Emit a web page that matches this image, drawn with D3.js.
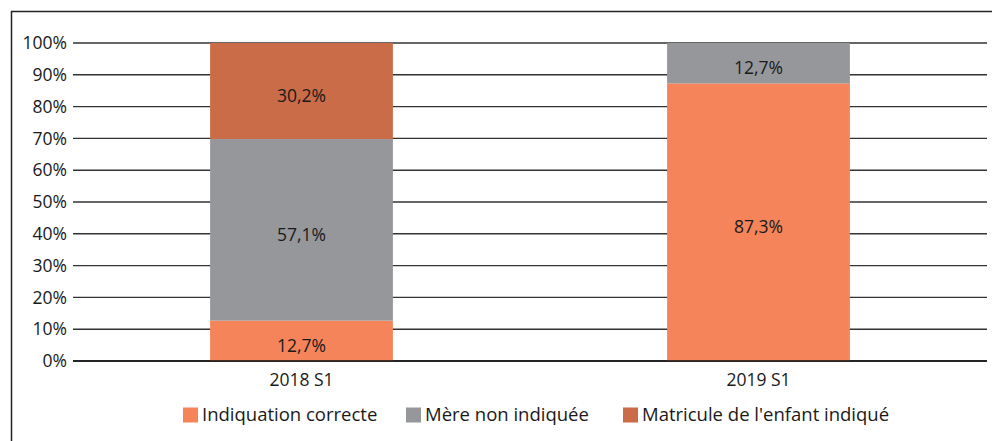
<!DOCTYPE html>
<html>
<head>
<meta charset="utf-8">
<script src="https://cdn.jsdelivr.net/npm/d3@7"></script>
<style>
  body { margin: 0; background: #fff; }
  svg { display: block; font-family: "Open Sans", sans-serif; }
</style>
</head>
<body>
<svg id="chart" width="992" height="441"></svg>
<script>
// Donnees du graphique
const periodes = ["2018 S1", "2019 S1"];
const series = ["Indiquation correcte", "Mère non indiquée", "Matricule de l'enfant indiqué"];
const couleurs = ["#F5845A", "#96979B", "#C96C47"];
const valeurs = [
  [12.7, 57.1, 30.2],   // 2018 S1
  [87.3, 12.7, 0]       // 2019 S1
];
const ticks = [0, 10, 20, 30, 40, 50, 60, 70, 80, 90, 100];

const fmt = v => v.toFixed(1).replace(".", ",") + "%";
const FS = 17.5;

const svg = d3.select("#chart");

// cadre
svg.append("path")
  .attr("d", "M11.5,441 V11.5 H992")
  .attr("fill", "none")
  .attr("stroke", "#222")
  .attr("stroke-width", 1.5);

const x = d3.scaleBand().domain(periodes).range([73, 987]).paddingInner(0.6).paddingOuter(0.3);
const y = d3.scaleLinear().domain([0, 100]).range([361, 43]);

// lignes de grille
svg.append("g").selectAll("line").data(ticks).join("line")
  .attr("x1", 73).attr("x2", 987)
  .attr("y1", d => y(d)).attr("y2", d => y(d))
  .attr("stroke", "#333").attr("stroke-width", 1.4);

svg.append("g").selectAll("text").data(ticks).join("text")
  .attr("x", 67).attr("y", d => y(d))
  .attr("dy", "0.35em")
  .attr("text-anchor", "end")
  .attr("font-size", FS)
  .attr("fill", "#1a1a1a")
  .text(d => d + "%");

// barres empilees
const rows = periodes.map((p, i) => {
  const o = { periode: p };
  series.forEach((s, j) => o[s] = valeurs[i][j]);
  return o;
});
const stack = d3.stack().keys(series)(rows);

const layers = svg.append("g").selectAll("g").data(stack).join("g")
  .attr("fill", (d, i) => couleurs[i]);

layers.selectAll("rect").data(d => d).join("rect")
  .attr("x", d => x(d.data.periode))
  .attr("width", x.bandwidth())
  .attr("y", d => y(d[1]))
  .attr("height", d => y(d[0]) - y(d[1]));

layers.selectAll("text").data(d => d.filter(v => v[1] - v[0] > 0)).join("text")
  .attr("x", d => x(d.data.periode) + x.bandwidth() / 2)
  .attr("y", d => y((d[0] + d[1]) / 2) + 5)
  .attr("dy", "0.35em")
  .attr("text-anchor", "middle")
  .attr("font-size", FS)
  .attr("fill", "#1a1a1a")
  .text(d => fmt(d[1] - d[0]));

// axe 0%
svg.append("line")
  .attr("x1", 73).attr("x2", 987)
  .attr("y1", y(0)).attr("y2", y(0))
  .attr("stroke", "#111").attr("stroke-width", 1.5);

// libelles categories
svg.append("g").selectAll("text").data(periodes).join("text")
  .attr("x", d => x(d) + x.bandwidth() / 2)
  .attr("y", 380)
  .attr("dy", "0.35em")
  .attr("text-anchor", "middle")
  .attr("font-size", FS)
  .attr("fill", "#1a1a1a")
  .text(d => d);

// legende
const legX = [183, 406, 623];
const leg = svg.append("g").selectAll("g").data(series).join("g")
  .attr("transform", (d, i) => `translate(${legX[i]},415)`);
leg.append("rect")
  .attr("x", 0).attr("y", -7.5).attr("width", 15).attr("height", 15)
  .attr("fill", (d, i) => couleurs[i]);
leg.append("text")
  .attr("x", 19).attr("dy", "0.35em")
  .attr("font-size", 18.5)
  .attr("fill", "#1a1a1a")
  .text(d => d);
</script>
</body>
</html>
